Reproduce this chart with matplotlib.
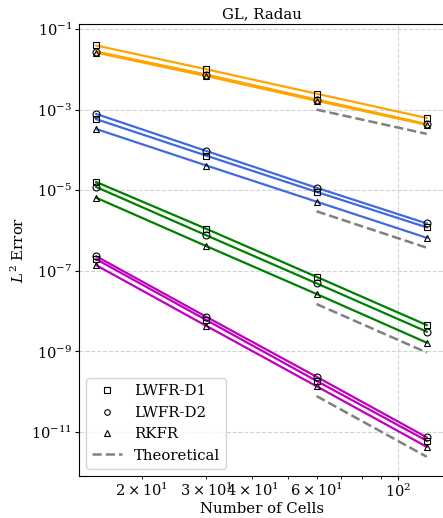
import matplotlib
matplotlib.use("Agg")
import matplotlib.pyplot as plt
from matplotlib.ticker import FixedLocator, NullLocator
from matplotlib.lines import Line2D

plt.rcParams["font.family"] = "DejaVu Serif"
plt.rcParams["mathtext.fontset"] = "dejavuserif"
plt.rcParams["font.size"] = 10.7

cells = [15, 30, 60, 120]

# L2 errors per polynomial degree (one colour each) and scheme
colors = ["orange", "royalblue", "green", "m"]

lwfr_d1 = [
    [3.9e-2, 1.0e-2, 2.48e-3, 6.2e-4],
    [5.8e-4, 7.2e-5, 9.1e-6, 1.2e-6],
    [1.6e-5, 1.1e-6, 7.1e-8, 4.5e-9],
    [1.94e-7, 6.0e-9, 1.86e-10, 6.1e-12],
]
lwfr_d2 = [
    [2.75e-2, 7.4e-3, 1.78e-3, 4.4e-4],
    [7.8e-4, 9.4e-5, 1.15e-5, 1.5e-6],
    [1.2e-5, 7.6e-7, 4.9e-8, 3.1e-9],
    [2.3e-7, 7.2e-9, 2.35e-10, 7.4e-12],
]
rkfr = [
    [2.6e-2, 6.8e-3, 1.66e-3, 4.2e-4],
    [3.3e-4, 4.1e-5, 5.2e-6, 6.6e-7],
    [6.5e-6, 4.1e-7, 2.66e-8, 1.65e-9],
    [1.38e-7, 4.3e-9, 1.37e-10, 4.3e-12],
]

# Theoretical convergence slopes drawn between the two finest meshes
theory_cells = [60, 120]
theory = [
    [1.0e-3, 2.5e-4],
    [3.0e-6, 3.75e-7],
    [1.5e-8, 9.4e-10],
    [7.8e-11, 2.44e-12],
]

schemes = [(lwfr_d1, "s", "LWFR-D1"), (lwfr_d2, "o", "LWFR-D2"), (rkfr, "^", "RKFR")]

fig = plt.figure(figsize=(4.43, 5.18), dpi=100)
ax = fig.add_axes([79 / 443, 42 / 518, 366 / 443, 452 / 518])

for k, color in enumerate(colors):
    for data, marker, _ in schemes:
        ax.plot(cells, data[k], "-", color=color, lw=1.6, zorder=2)
        ax.plot(cells, data[k], linestyle="none", marker=marker, ms=5,
                mfc="none", mec="black", mew=0.8, zorder=3)
    ax.plot(theory_cells, theory[k], "--", color="gray", lw=1.8, zorder=2)

ax.set_xscale("log")
ax.set_yscale("log")
ax.set_xlim(13.46, 134.6)
ax.set_ylim(10 ** -12.09, 10 ** -0.876)

ax.yaxis.set_major_locator(FixedLocator([1e-1, 1e-3, 1e-5, 1e-7, 1e-9, 1e-11]))
ax.yaxis.set_minor_locator(NullLocator())

ax.tick_params(which="major", length=3, pad=2, labelsize=10.5)
ax.tick_params(which="minor", length=2, pad=2, labelsize=10.5)

ax.grid(True, which="major", linestyle="--", color="lightgray", lw=0.8)
ax.set_axisbelow(True)

ax.set_title("GL, Radau", pad=4, fontsize=10.7)
ax.set_xlabel("Number of Cells", labelpad=1)
ax.set_ylabel("$L^2$ Error", labelpad=3)

handles = [
    Line2D([], [], linestyle="none", marker="s", ms=4, mfc="none", mec="black", mew=0.8),
    Line2D([], [], linestyle="none", marker="o", ms=4, mfc="none", mec="black", mew=0.8),
    Line2D([], [], linestyle="none", marker="^", ms=4, mfc="none", mec="black", mew=0.8),
    Line2D([], [], linestyle="--", color="gray", lw=1.8),
]
ax.legend(handles, ["LWFR-D1", "LWFR-D2", "RKFR", "Theoretical"], loc="lower left",
          fontsize=10.7)

fig.savefig("out.png", dpi=100)
